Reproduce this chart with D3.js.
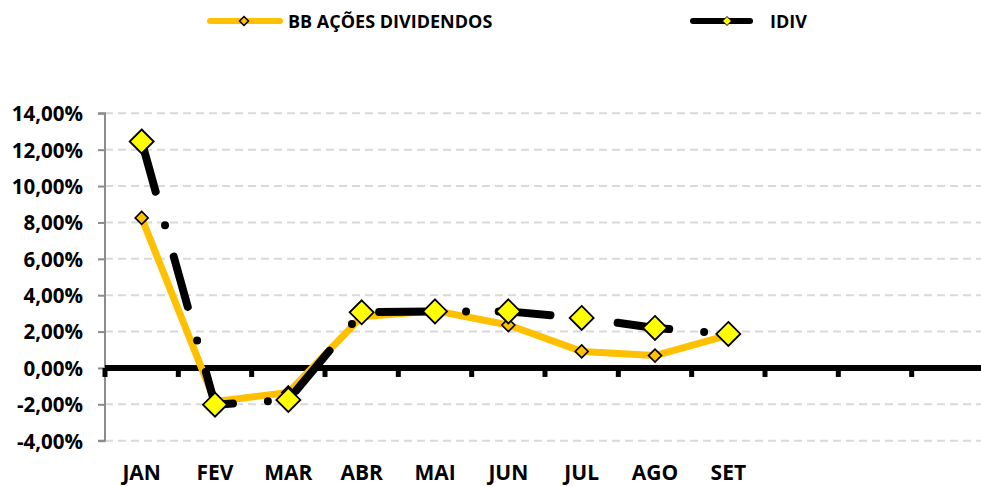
<!DOCTYPE html>
<html><head><meta charset="utf-8">
<script src="https://cdn.jsdelivr.net/npm/d3@7"></script>
<style>
body{margin:0;background:#fff;}
text{font-family:"Open Sans",sans-serif;font-weight:700;fill:#000;}
</style></head>
<body><svg id="c" width="981" height="486"></svg>
<script>
const categories = ["JAN","FEV","MAR","ABR","MAI","JUN","JUL","AGO","SET"];
const slotCount = 12;
const seriesNames = ["BB AÇÕES DIVIDENDOS","IDIV"];
const bbValues   = [8.25,-1.85,-1.35,2.82,3.15,2.36,0.91,0.68,1.80];
const idivValues = [12.45,-2.02,-1.76,3.06,3.11,3.11,2.75,2.20,1.87];
const yTicks = [-4,-2,0,2,4,6,8,10,12,14];

const svg = d3.select("#c");
const L = 105, R = 985, T = 113.3, B = 440.7;
const x = d3.scaleBand().domain(d3.range(slotCount)).range([L,R]).paddingInner(0).paddingOuter(0);
const y = d3.scaleLinear().domain([-4,14]).range([B,T]);
const cx = i => x(i) + x.bandwidth()/2;
const fmt = v => v.toFixed(2).replace(".",",") + "%";

// gridlines
svg.append("g").selectAll("line").data(yTicks.filter(v=>v!==0)).join("line")
  .attr("x1",L).attr("x2",981).attr("y1",d=>y(d)).attr("y2",d=>y(d))
  .attr("stroke","#d9d9d9").attr("stroke-width",2).attr("stroke-dasharray","8,5");

// y axis
const yAxis = d3.axisLeft(y).tickValues(yTicks).tickSize(7).tickFormat(fmt);
const ya = svg.append("g").attr("transform",`translate(${L},0)`).call(yAxis);
ya.select(".domain").attr("stroke","#8c8c8c").attr("stroke-width",2).attr("d",`M-7,${T}H0V${B}H-7`);
ya.selectAll(".tick line").attr("stroke","#8c8c8c").attr("stroke-width",2);
ya.selectAll(".tick text").attr("x",-22).attr("dy","0.36em")
  .style("font-size","20.5px").style("font-family","'Open Sans',sans-serif").style("font-weight","700").attr("fill","#000");

// zero line with category ticks
svg.append("g").selectAll("rect").data(d3.range(slotCount+1)).join("rect")
  .attr("x",d=>L + d*x.step() - 2.5).attr("y",y(0)).attr("width",5).attr("height",9).attr("fill","#000");
svg.append("line").attr("x1",L).attr("x2",981).attr("y1",y(0)).attr("y2",y(0))
  .attr("stroke","#000").attr("stroke-width",6);

// x labels
svg.append("g").selectAll("text").data(categories).join("text")
  .attr("x",(d,i)=>cx(i)).attr("y",480).attr("text-anchor","middle")
  .style("font-size","21px").text(d=>d);

const line = d3.line().x((d,i)=>cx(i)).y(d=>y(d));
const diamond = (s)=> `M0,${-s}L${s},0L0,${s}L${-s},0Z`;

// BB line
svg.append("path").attr("d",line(bbValues)).attr("fill","none")
  .attr("stroke","#ffc000").attr("stroke-width",7).attr("stroke-linejoin","round").attr("stroke-linecap","round");
svg.append("g").selectAll("path").data(bbValues).join("path")
  .attr("transform",(d,i)=>`translate(${cx(i)},${y(d)})`).attr("d",diamond(6.5))
  .attr("fill","#ffc000").attr("stroke","#000").attr("stroke-width",1.6);

// IDIV line
svg.append("path").attr("d",line(idivValues)).attr("fill","none")
  .attr("stroke","#000").attr("stroke-width",8).attr("stroke-linecap","round").attr("stroke-linejoin","round")
  .attr("stroke-dasharray","52,35,0,32.6");
svg.append("g").selectAll("path").data(idivValues).join("path")
  .attr("transform",(d,i)=>`translate(${cx(i)},${y(d)})`).attr("d",diamond(12))
  .attr("fill","#ffff00").attr("stroke","#000").attr("stroke-width",1.8);

// legend
const lg = svg.append("g");
lg.append("line").attr("x1",210).attr("x2",280).attr("y1",21).attr("y2",21)
  .attr("stroke","#ffc000").attr("stroke-width",6).attr("stroke-linecap","round");
lg.append("path").attr("transform","translate(244,21)").attr("d",diamond(4.5))
  .attr("fill","#ffc000").attr("stroke","#000").attr("stroke-width",1.5);
lg.append("text").attr("x",288).attr("y",27.5).style("font-size","18px").text(seriesNames[0]);
lg.append("line").attr("x1",693).attr("x2",750).attr("y1",21).attr("y2",21)
  .attr("stroke","#000").attr("stroke-width",6).attr("stroke-linecap","round");
lg.append("path").attr("transform","translate(727,21)").attr("d",diamond(4.5))
  .attr("fill","#ffff00").attr("stroke","#000").attr("stroke-width",1);
lg.append("text").attr("x",770).attr("y",27.5).style("font-size","18px").text(seriesNames[1]);
</script></body></html>
